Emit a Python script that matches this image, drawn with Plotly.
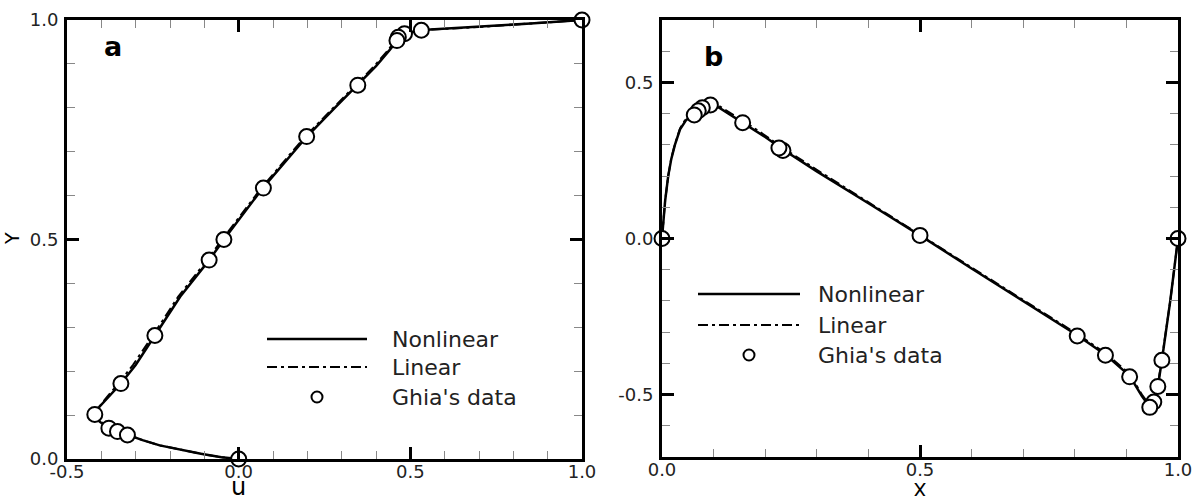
import plotly.graph_objects as go

W, H = 1201, 496

# ---------------- Data: panel a (u along vertical centreline) ----------------
ghia_a_y = [1.0, 0.9766, 0.9688, 0.9609, 0.9531, 0.8516, 0.7344, 0.6172, 0.5,
            0.4531, 0.2813, 0.1719, 0.1016, 0.0703, 0.0625, 0.0547, 0.0]
ghia_a_u = [1.0, 0.532, 0.483, 0.465, 0.461, 0.347, 0.198, 0.072, -0.043,
            -0.086, -0.244, -0.343, -0.419, -0.378, -0.353, -0.324, 0.0]

nonlin_a_u = [0.0, -0.05, -0.11, -0.17, -0.23, -0.28, -0.324, -0.353, -0.378, -0.405,
              -0.419, -0.41, -0.38, -0.343, -0.30, -0.244, -0.17, -0.086, -0.043, 0.07,
              0.198, 0.28, 0.347, 0.40, 0.44, 0.461, 0.466, 0.483, 0.534, 0.70, 0.85, 1.0]
nonlin_a_y = [0.0, 0.004, 0.012, 0.021, 0.031, 0.043, 0.0547, 0.0625, 0.0703, 0.085,
              0.1016, 0.115, 0.14, 0.172, 0.214, 0.281, 0.37, 0.453, 0.5, 0.617,
              0.734, 0.80, 0.852, 0.895, 0.932, 0.953, 0.961, 0.969, 0.977, 0.984, 0.992, 1.0]

lin_a_u = [0.0, -0.05, -0.11, -0.17, -0.23, -0.28, -0.322, -0.351, -0.376, -0.402,
           -0.414, -0.41, -0.385, -0.35, -0.308, -0.25, -0.176, -0.092, -0.048, 0.066,
           0.193, 0.276, 0.342, 0.395, 0.436, 0.456, 0.463, 0.48, 0.53, 0.70, 0.85, 1.0]
lin_a_y = [0.0, 0.004, 0.012, 0.021, 0.031, 0.043, 0.0547, 0.0625, 0.0703, 0.085,
           0.1016, 0.115, 0.14, 0.172, 0.214, 0.281, 0.37, 0.453, 0.5, 0.617,
           0.734, 0.80, 0.852, 0.895, 0.932, 0.953, 0.961, 0.969, 0.977, 0.984, 0.992, 1.0]

# ---------------- Data: panel b (v along horizontal centreline) ----------------
ghia_b_x = [1.0, 0.9688, 0.9609, 0.9531, 0.9453, 0.9063, 0.8594, 0.8047, 0.5,
            0.2344, 0.2266, 0.1563, 0.0938, 0.0781, 0.0703, 0.0625, 0.0]
ghia_b_v = [0.0, -0.390, -0.474, -0.524, -0.541, -0.443, -0.374, -0.312, 0.010,
            0.282, 0.290, 0.371, 0.428, 0.419, 0.409, 0.396, 0.0]

nonlin_b_x = [0.0, 0.003, 0.006, 0.012, 0.018, 0.025, 0.035, 0.047, 0.0625, 0.078,
              0.094, 0.11, 0.1563, 0.2, 0.2344, 0.3, 0.4, 0.5, 0.6, 0.7,
              0.8047, 0.8594, 0.9063, 0.93, 0.9453, 0.9531, 0.9609, 0.9688, 0.985, 1.0]
nonlin_b_v = [0.0, 0.06, 0.12, 0.2, 0.255, 0.30, 0.35, 0.38, 0.395, 0.415,
              0.425, 0.42, 0.372, 0.325, 0.285, 0.215, 0.113, 0.01, -0.096, -0.20,
              -0.31, -0.372, -0.44, -0.505, -0.54, -0.524, -0.475, -0.39, -0.2, 0.0]

lin_b_x = [0.0, 0.003, 0.006, 0.012, 0.018, 0.025, 0.035, 0.047, 0.0625, 0.078,
           0.094, 0.11, 0.1563, 0.2, 0.2344, 0.3, 0.4, 0.5, 0.6, 0.7,
           0.8047, 0.8594, 0.9063, 0.93, 0.9453, 0.9531, 0.9609, 0.9688, 0.985, 1.0]
lin_b_v = [0.0, 0.06, 0.12, 0.2, 0.257, 0.302, 0.353, 0.385, 0.40, 0.42,
           0.43, 0.425, 0.378, 0.33, 0.29, 0.22, 0.117, 0.012, -0.093, -0.197,
           -0.306, -0.367, -0.434, -0.5, -0.535, -0.52, -0.47, -0.386, -0.2, 0.0]

x_ticks_a = [-0.5, 0.0, 0.5, 1.0]
x_labels_a = ["-0.5", "0.0", "0.5", "1.0"]
y_ticks_a = [0.0, 0.5, 1.0]
y_labels_a = ["0.0", "0.5", "1.0"]
x_ticks_b = [0.0, 0.5, 1.0]
x_labels_b = ["0.0", "0.5", "1.0"]
y_ticks_b = [-0.5, 0.0, 0.5]
y_labels_b = ["-0.5", "0.0", "0.5"]
legend_labels = ["Nonlinear", "Linear", "Ghia's data"]


def px(x):
    return x / W


def py(y):
    return 1 - y / H


FONT = "DejaVu Sans"
line_solid = dict(color="black", width=2.5)
line_dd = dict(color="black", width=2, dash="10px,4px,3px,4px")
marker = dict(symbol="circle", size=15, color="white", line=dict(color="black", width=2))

fig = go.Figure()
# panel a
fig.add_trace(go.Scatter(x=nonlin_a_u, y=nonlin_a_y, mode="lines", line=line_solid,
                         showlegend=False, xaxis="x", yaxis="y", cliponaxis=False))
fig.add_trace(go.Scatter(x=lin_a_u, y=lin_a_y, mode="lines", line=line_dd,
                         showlegend=False, xaxis="x", yaxis="y", cliponaxis=False))
fig.add_trace(go.Scatter(x=ghia_a_u, y=ghia_a_y, mode="markers", marker=marker,
                         showlegend=False, xaxis="x", yaxis="y", cliponaxis=False))
# panel b
fig.add_trace(go.Scatter(x=nonlin_b_x, y=nonlin_b_v, mode="lines", line=line_solid,
                         showlegend=False, xaxis="x2", yaxis="y2", cliponaxis=False))
fig.add_trace(go.Scatter(x=lin_b_x, y=lin_b_v, mode="lines", line=line_dd,
                         showlegend=False, xaxis="x2", yaxis="y2", cliponaxis=False))
fig.add_trace(go.Scatter(x=ghia_b_x, y=ghia_b_v, mode="markers", marker=marker,
                         showlegend=False, xaxis="x2", yaxis="y2", cliponaxis=False))

common = dict(
    showline=True, linewidth=3, linecolor="black", mirror="ticks",
    ticks="inside", ticklen=12, tickwidth=2.5, tickcolor="black",
    showgrid=False, zeroline=False, automargin=False,
    tickfont=dict(family=FONT, size=18, color="#222"),
    minor=dict(ticks="inside", ticklen=8, tickwidth=1, tickcolor="#888",
               dtick=0.1, tick0=0, showgrid=False),
)
xcommon = dict(common, ticklabelstandoff=-6)
ycommon = dict(common, ticklabelstandoff=2)

fig.update_layout(
    width=W, height=H,
    margin=dict(l=0, r=0, t=0, b=0, autoexpand=False),
    paper_bgcolor="white", plot_bgcolor="white",
    xaxis=dict(domain=[px(67), px(582)], range=[-0.5, 1.0], tickvals=x_ticks_a,
               ticktext=x_labels_a, anchor="y", **xcommon),
    yaxis=dict(domain=[py(459), py(20)], range=[0, 1.0], tickvals=y_ticks_a,
               ticktext=y_labels_a, anchor="x", **ycommon),
    xaxis2=dict(domain=[px(662), px(1178)], range=[0, 1.0], tickvals=x_ticks_b,
                ticktext=x_labels_b, anchor="y2", **xcommon),
    yaxis2=dict(domain=[py(457), py(20)], range=[-0.7, 0.7], tickvals=y_ticks_b,
                ticktext=y_labels_b, anchor="x2", **ycommon),
)

annotations = [
    dict(text="<b>a</b>", x=px(113), y=py(47), xref="paper", yref="paper",
         xanchor="center", yanchor="middle",
         showarrow=False, font=dict(family=FONT, size=27, color="black")),
    dict(text="<b>b</b>", x=px(713), y=py(56), xref="paper", yref="paper",
         xanchor="center", yanchor="middle",
         showarrow=False, font=dict(family=FONT, size=27, color="black")),
    dict(text="u", x=0.0, xref="x", y=py(487), yref="paper", yanchor="middle",
         xanchor="center", showarrow=False, font=dict(family=FONT, size=24, color="black")),
    dict(text="X", x=0.5, xref="x2", y=py(490), yref="paper", yanchor="middle",
         xanchor="center", showarrow=False, font=dict(family=FONT, size=20, color="black")),
    dict(text="Y", x=px(12), y=py(239), xref="paper", yref="paper", textangle=-90,
         xanchor="center", yanchor="middle",
         showarrow=False, font=dict(family=FONT, size=19, color="black")),
]

shapes = []
# custom legends: (line x0, line x1, marker x, text x, row ys)
legends = [
    (267, 367, 317, 390, [339, 367, 397]),
    (698, 800, 749, 816, [294, 325, 355]),
]
for x0, x1, mx, tx, ys in legends:
    shapes.append(dict(type="line", xref="paper", yref="paper", x0=px(x0), x1=px(x1),
                       y0=py(ys[0]), y1=py(ys[0]), line=dict(color="black", width=2.5)))
    shapes.append(dict(type="line", xref="paper", yref="paper", x0=px(x0), x1=px(x1),
                       y0=py(ys[1]), y1=py(ys[1]),
                       line=dict(color="black", width=2, dash="10px,4px,3px,4px")))
    r = 5.5
    shapes.append(dict(type="circle", xref="paper", yref="paper",
                       x0=px(mx - r), x1=px(mx + r), y0=py(ys[2] + r), y1=py(ys[2] - r),
                       fillcolor="white", line=dict(color="black", width=2)))
    for label, yy in zip(legend_labels, ys):
        annotations.append(dict(text=label, x=px(tx), y=py(yy), xref="paper", yref="paper",
                                xanchor="left", yanchor="middle", showarrow=False,
                                font=dict(family=FONT, size=22, color="#222")))

fig.update_layout(annotations=annotations, shapes=shapes)
fig.write_html("out.html")
